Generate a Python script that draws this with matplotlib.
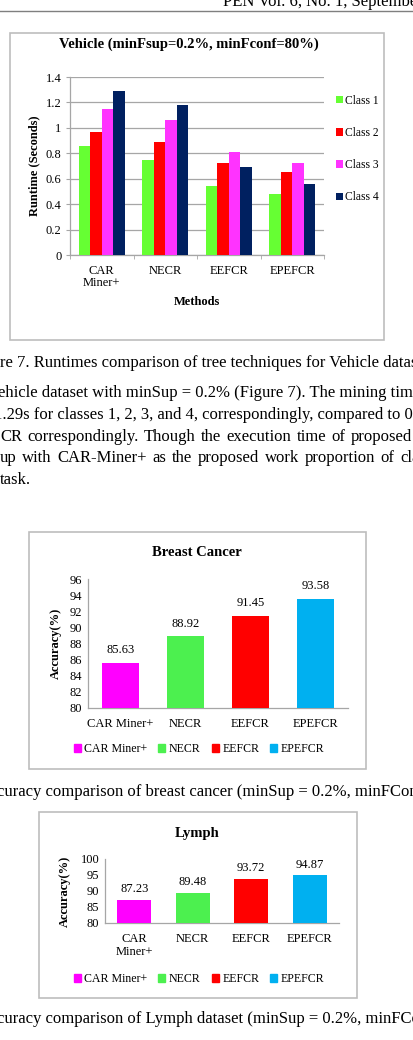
import matplotlib
matplotlib.use("Agg")
import matplotlib.pyplot as plt
from matplotlib.patches import Rectangle, Patch
from matplotlib.lines import Line2D
import numpy as np

# ---------------- data ----------------
vehicle_methods = ["CAR\nMiner+", "NECR", "EEFCR", "EPEFCR"]
vehicle_classes = ["Class 1", "Class 2", "Class 3", "Class 4"]
class1 = [0.86, 0.75, 0.54, 0.48]
class2 = [0.97, 0.89, 0.72, 0.65]
class3 = [1.15, 1.06, 0.81, 0.72]
class4 = [1.29, 1.18, 0.69, 0.56]
vehicle_yticks = [0, 0.2, 0.4, 0.6, 0.8, 1, 1.2, 1.4]
vehicle_yticklabels = ["0", "0.2", "0.4", "0.6", "0.8", "1", "1.2", "1.4"]

breast_methods = ["CAR Miner+", "NECR", "EEFCR", "EPEFCR"]
breast_acc = [85.63, 88.92, 91.45, 93.58]
breast_yticks = [80, 82, 84, 86, 88, 90, 92, 94, 96]

lymph_methods = ["CAR\nMiner+", "NECR", "EEFCR", "EPEFCR"]
lymph_legend = ["CAR Miner+", "NECR", "EEFCR", "EPEFCR"]
lymph_acc = [87.23, 89.48, 93.72, 94.87]
lymph_yticks = [80, 85, 90, 95, 100]

class_colors = ["#66FF33", "#FF0000", "#FF33FF", "#002060"]
method_colors = ["#FF00FF", "#4CF04F", "#FF0000", "#00B0F0"]

W, H = 413, 1040
SERIF = ["Liberation Serif", "DejaVu Serif"]
plt.rcParams["font.family"] = SERIF
plt.rcParams["mathtext.default"] = "regular"

fig = plt.figure(figsize=(W / 100, H / 100), dpi=100)
fig.patch.set_facecolor("white")


def fx(x):
    return x / W


def fy(y):
    return 1 - y / H


def axes_px(l, t, r, b):
    return fig.add_axes([fx(l), fy(b), (r - l) / W, (b - t) / H])


def frame(l, t, r, b):
    fig.patches.append(Rectangle((fx(l), fy(b)), (r - l) / W, (b - t) / H,
                                 transform=fig.transFigure, fill=False,
                                 edgecolor="#BDBDBD", linewidth=1.2))


GRAY = "#A6A6A6"
BODY = 12
TICK = 9
TITLE = 10.5

# ---------------- header ----------------
fig.add_artist(Line2D([0, 1], [fy(10.5), fy(10.5)], transform=fig.transFigure,
                      color="#7F7F7F", linewidth=1.0))
fig.text(fx(223), fy(6), "PEN Vol. 6, No. 1, September", fontsize=BODY,
         va="baseline", ha="left")

# ---------------- chart 1: Vehicle ----------------
frame(10, 33, 384, 340)
fig.text(fx(189), fy(44), "Vehicle (minFsup=0.2%, minFconf=80%)",
         fontsize=TITLE, fontweight="bold", ha="center", va="center")
ax1 = axes_px(70, 77, 324, 255)
x = np.arange(len(vehicle_methods))
bw = 0.18
series = [class1, class2, class3, class4]
for i, (vals, col, lab) in enumerate(zip(series, class_colors, vehicle_classes)):
    ax1.bar(x + (i - 1.5) * bw, vals, width=bw, color=col, label=lab, zorder=3)
ax1.set_ylim(0, 1.4)
ax1.set_xlim(-0.5, 3.5)
ax1.set_yticks(vehicle_yticks)
ax1.set_yticklabels(vehicle_yticklabels, fontsize=TICK)
ax1.set_xticks(x)
ax1.set_xticklabels(vehicle_methods, fontsize=TICK, linespacing=1.05)
ax1.set_xticks(np.arange(-0.5, 4.0, 1.0), minor=True)
ax1.tick_params(axis="x", which="major", length=0, pad=7)
ax1.tick_params(axis="x", which="minor", length=3, color=GRAY, direction="out")
ax1.tick_params(axis="y", length=3, color=GRAY, pad=3)
ax1.grid(axis="y", color=GRAY, linewidth=0.9, zorder=0)
ax1.set_axisbelow(True)
for s in ["top", "right"]:
    ax1.spines[s].set_visible(False)
for s in ["left", "bottom"]:
    ax1.spines[s].set_color(GRAY)
    ax1.spines[s].set_linewidth(0.9)
ax1.set_ylabel("Runtime (Seconds)", fontsize=TICK, fontweight="bold")
ax1.yaxis.set_label_coords((40 - 70) / (324 - 70), 0.5)
fig.text(fx(197), fy(302), "Methods", fontsize=TICK, fontweight="bold",
         ha="center", va="center")
ax1.legend(loc="center left", bbox_to_anchor=(fx(331), fy(149)),
           bbox_transform=fig.transFigure, frameon=False, fontsize=8.3,
           handlelength=0.6, handleheight=0.6, handletextpad=0.25,
           labelspacing=1.75, borderaxespad=0)

# ---------------- text block ----------------
fig.text(fx(0), fy(363), "re 7. Runtimes comparison of tree techniques for Vehicle dataset",
         fontsize=BODY, va="center", ha="left")
fig.text(fx(-2), fy(393), "ehicle dataset with minSup = 0.2% (Figure 7). The mining time",
         fontsize=BODY, va="center", ha="left")
fig.text(fx(-6), fy(415), "1.29s for classes 1, 2, 3, and 4, correspondingly, compared to 0",
         fontsize=BODY, va="center", ha="left")

renderer = fig.canvas.get_renderer()


def justified(words, y, x0, x_end=None, x_last=None):
    tmp = [fig.text(0, 0, w, fontsize=BODY) for w in words]
    widths = [t.get_window_extent(renderer).width for t in tmp]
    for t in tmp:
        t.remove()
    if x_end is not None:
        gap = (x_end - x0 - sum(widths)) / (len(words) - 1)
    else:
        gap = (x_last - x0 - sum(widths[:-1])) / (len(words) - 1)
    xpos = x0
    for w, wd in zip(words, widths):
        fig.text(fx(xpos), fy(y), w, fontsize=BODY, va="center", ha="left")
        xpos += wd + gap


justified("CR correspondingly. Though the execution time of proposed".split(), 437, 0, x_end=412)
justified("up with CAR-Miner+ as the proposed work proportion of class".split(), 458, 0, x_last=400)
fig.text(fx(0), fy(480), "task.", fontsize=BODY, va="center", ha="left")

# ---------------- chart 2: Breast Cancer ----------------
frame(29, 532, 366, 769)
fig.text(fx(197), fy(552), "Breast Cancer", fontsize=TITLE, fontweight="bold",
         ha="center", va="center")
ax2 = axes_px(88, 579, 348, 708)
x2 = np.arange(len(breast_methods))
bars2 = ax2.bar(x2, [v - 80 for v in breast_acc], bottom=80, width=0.57,
                color=method_colors, zorder=3)
for b, v in zip(bars2, breast_acc):
    ax2.annotate(f"{v:.2f}", (b.get_x() + b.get_width() / 2, v), xytext=(0, 4.5),
                 textcoords="offset points", ha="center", va="bottom", fontsize=TICK)
ax2.set_ylim(80, 96)
ax2.set_xlim(-0.5, 3.5)
ax2.set_yticks(breast_yticks)
ax2.set_yticklabels([str(t) for t in breast_yticks], fontsize=TICK)
ax2.set_xticks(x2)
ax2.set_xticklabels(breast_methods, fontsize=TICK)
ax2.tick_params(axis="x", length=0, pad=7)
ax2.tick_params(axis="y", length=0, pad=4)
for s in ["top", "right"]:
    ax2.spines[s].set_visible(False)
for s in ["left", "bottom"]:
    ax2.spines[s].set_color(GRAY)
    ax2.spines[s].set_linewidth(0.9)
ax2.set_ylabel("Accuracy(%)", fontsize=TICK, fontweight="bold")
ax2.yaxis.set_label_coords((62 - 88) / (348 - 88), 0.5)
handles2 = [Patch(color=c, label=l) for c, l in zip(method_colors, breast_methods)]
ax2.legend(handles=handles2, loc="center", bbox_to_anchor=(fx(199), fy(749)),
           bbox_transform=fig.transFigure, ncol=4, frameon=False, fontsize=8.6,
           handlelength=0.6, handleheight=0.6, handletextpad=0.3,
           columnspacing=0.9, borderaxespad=0)

fig.text(fx(-3), fy(792), "curacy comparison of breast cancer (minSup = 0.2%, minFConf",
         fontsize=BODY, va="center", ha="left")

# ---------------- chart 3: Lymph ----------------
frame(39, 812, 357, 998)
fig.text(fx(197), fy(833), "Lymph", fontsize=TITLE, fontweight="bold",
         ha="center", va="center")
ax3 = axes_px(105, 859, 339, 923)
x3 = np.arange(len(lymph_methods))
bars3 = ax3.bar(x3, [v - 80 for v in lymph_acc], bottom=80, width=0.58,
                color=method_colors, zorder=3)
for b, v in zip(bars3, lymph_acc):
    ax3.annotate(f"{v:.2f}", (b.get_x() + b.get_width() / 2, v), xytext=(0, 3.5),
                 textcoords="offset points", ha="center", va="bottom", fontsize=TICK)
ax3.set_ylim(80, 100)
ax3.set_xlim(-0.5, 3.5)
ax3.set_yticks(lymph_yticks)
ax3.set_yticklabels([str(t) for t in lymph_yticks], fontsize=TICK)
ax3.set_xticks(x3)
ax3.set_xticklabels(lymph_methods, fontsize=TICK, linespacing=1.1)
ax3.tick_params(axis="x", length=0, pad=7)
ax3.tick_params(axis="y", length=0, pad=4)
for s in ["top", "right"]:
    ax3.spines[s].set_visible(False)
for s in ["left", "bottom"]:
    ax3.spines[s].set_color(GRAY)
    ax3.spines[s].set_linewidth(0.9)
ax3.set_ylabel("Accuracy(%)", fontsize=TICK, fontweight="bold")
ax3.yaxis.set_label_coords((71 - 105) / (339 - 105), 0.5)
handles3 = [Patch(color=c, label=l) for c, l in zip(method_colors, lymph_legend)]
ax3.legend(handles=handles3, loc="center", bbox_to_anchor=(fx(199), fy(979)),
           bbox_transform=fig.transFigure, ncol=4, frameon=False, fontsize=8.6,
           handlelength=0.6, handleheight=0.6, handletextpad=0.3,
           columnspacing=0.9, borderaxespad=0)

fig.text(fx(-3), fy(1019), "curacy comparison of Lymph dataset (minSup = 0.2%, minFConf",
         fontsize=BODY, va="center", ha="left")

fig.savefig("out.png", dpi=100, facecolor="white")
